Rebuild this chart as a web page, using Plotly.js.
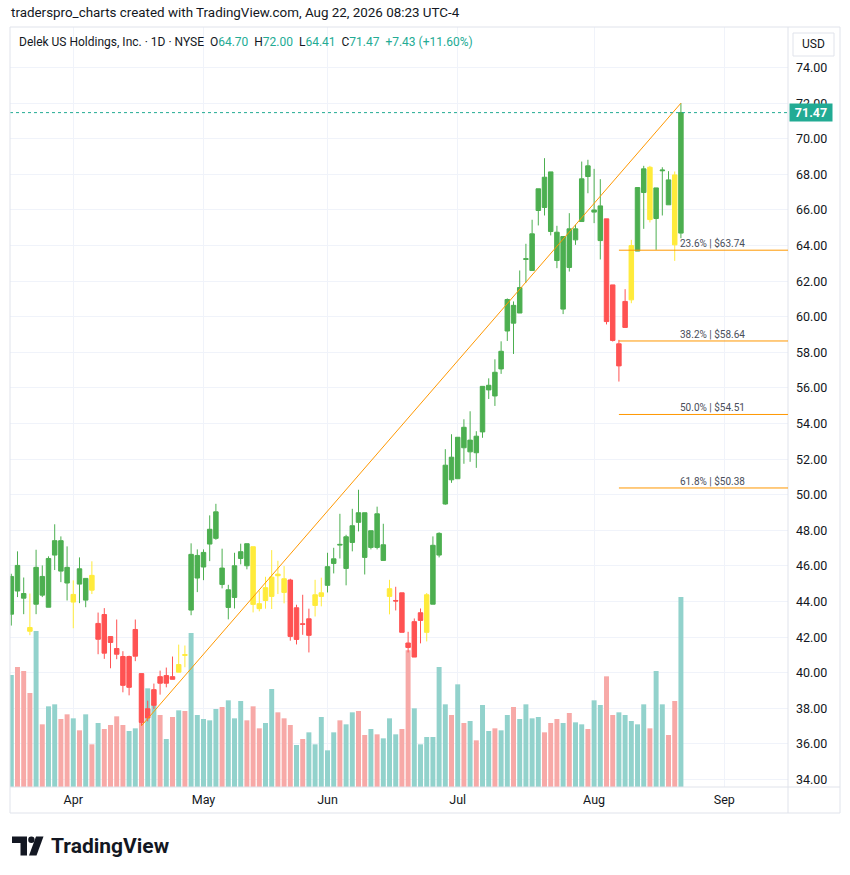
<!DOCTYPE html>
<html>
<head>
<meta charset="utf-8">
<script src="https://cdn.plot.ly/plotly-3.0.1.min.js"></script>
<style>
  html, body { margin: 0; padding: 0; background: #ffffff; }
  #chart { width: 850px; height: 875px; }
</style>
</head>
<body>
<div id="chart"></div>
<script>
// ---------------- DATA ----------------
const dates = [
  '2026-03-18','2026-03-19','2026-03-20','2026-03-23','2026-03-24','2026-03-25','2026-03-26','2026-03-27','2026-03-30','2026-03-31',
  '2026-04-01','2026-04-02','2026-04-06','2026-04-07','2026-04-08','2026-04-09','2026-04-10','2026-04-13','2026-04-14','2026-04-15',
  '2026-04-16','2026-04-17','2026-04-20','2026-04-21','2026-04-22','2026-04-23','2026-04-24','2026-04-27','2026-04-28','2026-04-29',
  '2026-04-30','2026-05-01','2026-05-04','2026-05-05','2026-05-06','2026-05-07','2026-05-08','2026-05-11','2026-05-12','2026-05-13',
  '2026-05-14','2026-05-15','2026-05-18','2026-05-19','2026-05-20','2026-05-21','2026-05-22','2026-05-26','2026-05-27','2026-05-28',
  '2026-05-29','2026-06-01','2026-06-02','2026-06-03','2026-06-04','2026-06-05','2026-06-08','2026-06-09','2026-06-10','2026-06-11',
  '2026-06-12','2026-06-15','2026-06-16','2026-06-17','2026-06-18','2026-06-22','2026-06-23','2026-06-24','2026-06-25','2026-06-26',
  '2026-06-29','2026-06-30','2026-07-01','2026-07-02','2026-07-06','2026-07-07','2026-07-08','2026-07-09','2026-07-10','2026-07-13',
  '2026-07-14','2026-07-15','2026-07-16','2026-07-17','2026-07-20','2026-07-21','2026-07-22','2026-07-23','2026-07-24','2026-07-27',
  '2026-07-28','2026-07-29','2026-07-30','2026-07-31','2026-08-03','2026-08-04','2026-08-05','2026-08-06','2026-08-07','2026-08-10',
  '2026-08-11','2026-08-12','2026-08-13','2026-08-14','2026-08-17','2026-08-18','2026-08-19','2026-08-20','2026-08-21'
];
const open = [
  43.29,44.59,44.19,42.54,43.85,44.36,43.68,46.61,45.71,45.04,
  44.40,44.98,44.08,44.64,42.77,43.27,42.03,41.36,40.91,40.91,
  42.43,39.95,37.98,39.05,39.78,39.84,39.78,40.03,41.02,43.52,
  45.32,45.94,47.23,47.55,44.96,43.67,44.23,46.42,46.01,47.08,
  43.88,44.06,44.29,45.45,45.28,45.21,43.65,42.75,43.03,43.78,
  44.29,44.91,46.14,47.17,45.86,47.32,48.45,46.48,47.04,47.04,
  46.31,44.72,44.06,44.49,41.67,42.87,43.37,42.27,43.85,46.61,
  49.48,50.84,50.90,52.64,52.41,52.36,53.53,55.89,55.55,57.07,
  59.20,59.64,60.21,63.22,62.60,65.97,66.14,64.79,63.16,60.43,
  62.77,64.32,65.35,67.88,65.88,64.28,65.50,61.79,58.48,60.86,
  60.95,63.69,66.98,68.40,65.52,68.20,66.29,67.97,64.70
];
const high = [
  45.56,46.82,45.35,44.45,46.91,46.03,46.54,48.34,47.66,47.10,
  45.19,46.48,45.30,46.26,43.38,43.63,42.03,42.99,41.21,40.96,
  42.99,39.95,38.43,39.39,40.12,40.29,40.91,41.58,41.53,47.27,
  46.93,46.93,48.84,49.49,46.97,44.94,46.74,47.25,47.25,47.08,
  44.61,45.39,46.89,46.29,45.99,45.28,43.82,44.38,43.60,45.22,
  45.34,46.74,47.02,48.93,47.75,49.21,50.28,48.99,47.98,49.33,
  48.37,45.22,44.83,44.49,42.30,43.05,43.61,44.48,47.66,47.89,
  52.56,53.40,53.23,54.24,54.69,53.57,56.09,56.54,57.61,58.62,
  61.03,60.86,62.60,64.10,65.45,67.19,68.91,68.14,65.11,64.51,
  65.82,65.17,68.72,68.82,68.31,67.73,65.50,61.79,58.70,61.55,
  64.32,67.26,68.48,68.48,67.24,68.40,68.18,68.16,72.00
];
const low = [
  42.65,44.25,43.29,42.11,43.29,44.25,43.68,45.77,45.09,44.06,
  42.50,43.91,43.68,44.42,41.04,40.78,40.25,40.76,38.90,38.73,
  40.65,37.02,37.27,37.96,38.77,39.18,39.63,40.03,40.31,43.23,
  44.53,45.20,46.27,47.47,44.74,43.00,43.61,46.09,45.81,43.39,
  43.45,43.60,43.58,44.42,43.90,41.80,41.59,42.13,41.14,43.16,
  43.73,44.51,45.58,46.42,44.91,46.82,47.94,45.52,46.93,46.93,
  46.31,43.28,43.50,42.27,41.14,40.88,41.65,41.76,43.85,46.48,
  49.44,50.67,50.90,51.74,51.85,51.51,53.20,55.38,54.99,56.79,
  58.64,57.91,60.21,61.91,62.60,65.13,65.69,64.57,62.73,60.15,
  62.54,64.04,65.35,66.94,65.26,63.22,59.57,58.61,56.36,59.40,
  60.76,63.69,64.94,65.30,63.76,65.69,66.29,63.14,64.41
];
const close = [
  45.41,46.03,44.45,42.33,45.92,45.41,46.42,47.42,47.42,45.92,
  43.97,45.84,45.30,45.47,41.88,41.10,41.70,41.04,39.29,39.18,
  40.93,37.21,37.46,38.17,39.41,39.41,39.63,40.46,40.98,46.65,
  46.59,46.76,48.06,49.04,45.88,44.66,46.01,46.80,47.25,43.84,
  43.60,44.78,45.37,45.54,44.51,42.04,41.87,42.72,42.10,44.38,
  44.49,45.96,46.40,47.21,47.64,48.26,48.99,48.99,47.98,48.93,
  47.19,44.29,44.03,42.27,41.42,40.88,42.94,44.38,47.16,47.83,
  51.66,52.11,53.23,53.79,53.07,53.29,56.09,56.15,56.88,58.06,
  60.97,60.64,61.64,63.26,64.66,67.19,67.84,68.14,64.75,64.51,
  64.94,64.94,67.75,68.48,66.00,66.23,59.73,58.67,57.24,59.40,
  64.00,67.26,68.31,65.46,67.24,68.24,67.69,64.04,71.47
];
// bar colouring used on the chart: g = green, r = red, y = yellow
const candleColor = [
  'g','g','g','y','g','g','g','g','g','g',
  'y','g','g','y','r','r','r','r','r','r',
  'r','r','r','r','r','r','r','y','y','g',
  'g','g','g','g','g','g','g','g','g','y',
  'y','y','y','y','y','r','r','r','r','y',
  'y','g','g','g','g','g','g','g','g','g',
  'g','y','r','r','r','r','r','y','g','g',
  'g','g','g','g','g','g','g','g','g','g',
  'g','g','g','g','g','g','g','g','g','g',
  'g','g','g','g','g','g','r','r','r','r',
  'y','g','g','y','g','g','g','y','g'
];
// volume in millions of shares
const volume = [
  1.68,1.80,1.74,1.41,2.34,0.94,1.21,1.24,1.02,1.09,
  1.03,0.85,1.09,0.64,0.96,0.87,0.93,1.06,0.93,0.84,
  0.88,1.45,1.48,1.23,1.08,0.72,1.05,1.15,1.14,2.31,
  1.08,1.02,1.00,1.17,1.20,1.30,1.03,1.29,1.00,1.21,
  0.88,0.96,1.47,1.12,1.03,0.93,0.63,0.72,0.82,0.64,
  1.05,0.55,0.82,1.00,0.94,1.12,1.14,0.78,0.87,0.79,
  0.73,1.03,0.79,0.87,2.05,1.18,0.64,0.75,0.75,1.80,
  1.24,1.08,1.54,0.96,0.99,0.70,1.23,0.84,0.88,0.85,
  1.08,1.20,1.02,1.24,1.03,1.05,0.82,0.96,1.02,0.96,
  1.11,0.97,0.94,0.87,1.30,1.23,1.66,1.08,1.12,1.08,
  0.99,0.94,1.24,0.88,1.74,1.24,0.78,1.29,2.85
];
// u = up volume (teal), d = down volume (red)
const volumeDir = [
  'u','d','d','d','u','d','u','u','d','d',
  'u','d','u','d','u','d','d','d','d','u',
  'u','d','u','u','d','u','d','u','d','u',
  'u','u','u','u','d','u','u','u','d','d',
  'd','u','u','d','d','d','u','d','u','u',
  'u','u','u','d','u','u','d','d','u','d',
  'u','u','u','d','d','u','u','u','u','u',
  'u','d','u','d','u','d','u','u','d','u',
  'u','d','u','u','u','u','d','d','d','u',
  'd','u','u','d','u','u','d','d','u','u',
  'u','u','u','d','u','u','d','d','u'
];
const holidays = ['2026-04-03','2026-05-25','2026-06-19','2026-07-03'];
const monthTickDates = ['2026-04-01','2026-05-01','2026-06-01','2026-07-01','2026-08-03','2026-09-01'];
const monthLabels = ['Apr','May','Jun','Jul','Aug','Sep'];
const priceTicks = [34,36,38,40,42,44,46,48,50,52,54,56,58,60,62,64,66,68,70,72,74];
const viewRange = ['2026-03-18 07:00','2026-09-15 18:30'];
const priceRange = [33.58, 76.28];

// drawings
const trendDates = ['2026-04-17','2026-08-21'];
const trendPrices = [37.02, 72.00];
const fibLabels = ['23.6%','38.2%','50.0%','61.8%'];
const fibPrices = [63.74, 58.64, 54.51, 50.38];
const fibStartDate = '2026-08-07';

const headerText = 'traderspro_charts created with TradingView.com, Aug 22, 2026 08:23 UTC-4';
const symbolText = 'Delek US Holdings, Inc. · 1D · NYSE';
const currencyText = 'USD';

// ---------------- BUILD ----------------
const GREEN = '#4caf50', RED = '#ff5252', YELLOW = '#ffeb3b';
const VOL_UP = '#92d2cc', VOL_DN = '#f7a9a7';
const TEAL = '#22ab94', TXT = '#131722', GRID = '#f0f3fa', FRAME = '#e0e3eb';
const FIB = '#ff9800';

const atNoon = d => d + ' 12:00';
const xs = dates.map(atNoon);

function candleTrace(code, color) {
  const ii = candleColor.map((k, i) => k === code ? i : -1).filter(i => i >= 0);
  return {
    type: 'candlestick', xaxis: 'x', yaxis: 'y2',
    x: ii.map(i => xs[i]),
    open: ii.map(i => open[i]), high: ii.map(i => high[i]),
    low: ii.map(i => low[i]), close: ii.map(i => close[i]),
    increasing: { line: { color: color, width: 1 }, fillcolor: color },
    decreasing: { line: { color: color, width: 1 }, fillcolor: color },
    whiskerwidth: 0, hoverinfo: 'skip', showlegend: false
  };
}

const volTrace = {
  type: 'bar', xaxis: 'x', yaxis: 'y',
  x: xs, y: volume,
  marker: { color: volumeDir.map(d => d === 'u' ? VOL_UP : VOL_DN), line: { width: 0 } },
  hoverinfo: 'skip', showlegend: false
};

const data = [volTrace, candleTrace('g', GREEN), candleTrace('r', RED), candleTrace('y', YELLOW)];

// pixel helpers for decorations (plot area: x 10..788, y 27..787)
const PL = 10, PR = 788, PT = 27, PB = 787;
const px = x => (x - PL) / (PR - PL);
const py = y => (PB - y) / (PB - PT);
const P = (x, y) => px(x) + ',' + py(y);

const n = close.length;
const lastClose = close[n - 1];
const chg = lastClose - close[n - 2];
const chgPct = chg / close[n - 2] * 100;
const sp = v => '<span style="color:' + TEAL + '">' + v + '</span>';
const legendText = symbolText + '&nbsp;&nbsp;O' + sp(open[n-1].toFixed(2)) +
  '&nbsp;&nbsp;H' + sp(high[n-1].toFixed(2)) +
  '&nbsp;&nbsp;L' + sp(low[n-1].toFixed(2)) +
  '&nbsp;&nbsp;C' + sp(lastClose.toFixed(2)) +
  '&nbsp;&nbsp;' + sp((chg >= 0 ? '+' : '') + chg.toFixed(2) + ' (' + (chg >= 0 ? '+' : '') + chgPct.toFixed(2) + '%)');

const frameLine = (x0, y0, x1, y1) => ({
  type: 'line', xref: 'paper', yref: 'paper', layer: 'above',
  x0: px(x0), y0: py(y0), x1: px(x1), y1: py(y1),
  line: { color: FRAME, width: 1 }
});

const shapes = [
  // trend line
  { type: 'line', xref: 'x', yref: 'y2', layer: 'above',
    x0: atNoon(trendDates[0]), y0: trendPrices[0], x1: atNoon(trendDates[1]), y1: trendPrices[1],
    line: { color: FIB, width: 1 } },
  // last price dotted line
  { type: 'line', xref: 'paper', yref: 'y2', layer: 'above',
    x0: 0, x1: 1, y0: lastClose, y1: lastClose,
    line: { color: TEAL, width: 1, dash: 'dot' } },
  // frame
  frameLine(10, 27, 840, 27),
  frameLine(10, 787, 840, 787),
  frameLine(10, 813, 840, 813),
  frameLine(10, 27, 10, 813),
  frameLine(788, 27, 788, 813),
  frameLine(840, 27, 840, 813),
  // currency button
  { type: 'rect', xref: 'paper', yref: 'paper', layer: 'above',
    x0: px(793), x1: px(834), y0: py(56), y1: py(33),
    line: { color: FRAME, width: 1 }, fillcolor: '#ffffff' },
  // TradingView logo mark
  { type: 'path', xref: 'paper', yref: 'paper', layer: 'above',
    path: 'M ' + P(12, 836.5) + ' L ' + P(27, 836.5) + ' L ' + P(27, 855.5) + ' L ' + P(20.5, 855.5) +
          ' L ' + P(20.5, 843) + ' L ' + P(12, 843) + ' Z',
    fillcolor: TXT, line: { width: 0 } },
  { type: 'circle', xref: 'paper', yref: 'paper', layer: 'above',
    x0: px(28.2), x1: px(34.6), y0: py(843), y1: py(836.6),
    fillcolor: TXT, line: { width: 0 } },
  { type: 'path', xref: 'paper', yref: 'paper', layer: 'above',
    path: 'M ' + P(36, 836.5) + ' L ' + P(43.5, 836.5) + ' L ' + P(36.5, 855.5) + ' L ' + P(29, 855.5) + ' Z',
    fillcolor: TXT, line: { width: 0 } }
];
fibPrices.forEach(p => shapes.push({
  type: 'line', xref: 'x', yref: 'y2', layer: 'above',
  x0: atNoon(fibStartDate), x1: viewRange[1], y0: p, y1: p,
  line: { color: FIB, width: 1 }
}));

const annotations = [
  { xref: 'paper', yref: 'paper', x: px(9), y: py(12), xanchor: 'left', yanchor: 'middle',
    text: headerText, showarrow: false, font: { size: 13.4, color: TXT } },
  { xref: 'paper', yref: 'paper', x: px(17), y: py(42), xanchor: 'left', yanchor: 'middle',
    text: legendText, showarrow: false, font: { size: 12, color: TXT } },
  { xref: 'paper', yref: 'paper', x: px(813.5), y: py(44.5), xanchor: 'center', yanchor: 'middle',
    text: currencyText, showarrow: false, font: { size: 12, color: TXT } },
  { xref: 'paper', yref: 'y2', x: 1, y: lastClose, xanchor: 'left', yanchor: 'middle', xshift: 1,
    text: '<b>' + lastClose.toFixed(2) + '</b>', showarrow: false,
    bgcolor: TEAL, borderpad: 2, width: 38, height: 13,
    font: { size: 12.5, color: '#ffffff' } },
  { xref: 'paper', yref: 'paper', x: px(49), y: py(846), xanchor: 'left', yanchor: 'middle',
    text: '<b>TradingView</b>', showarrow: false, font: { size: 21, color: TXT } }
];
fibPrices.forEach((p, i) => annotations.push({
  xref: 'paper', yref: 'y2', x: px(678), y: p, xanchor: 'left', yanchor: 'bottom', yshift: -1,
  text: fibLabels[i] + ' | $' + p.toFixed(2), showarrow: false,
  font: { size: 10, color: '#4a4e5a' }
}));

const layout = {
  width: 850, height: 875,
  margin: { l: PL, r: 850 - PR, t: PT, b: 875 - PB, pad: 0 },
  paper_bgcolor: '#ffffff', plot_bgcolor: '#ffffff',
  showlegend: false,
  font: { family: 'Roboto, "Open Sans", sans-serif', color: TXT, size: 12 },
  bargap: 0.2,
  boxgap: 0.15, boxgroupgap: 0.15,
  xaxis: {
    type: 'date', range: viewRange,
    rangebreaks: [{ bounds: ['sat', 'mon'] }, { values: holidays }],
    rangeslider: { visible: false },
    tickmode: 'array', tickvals: monthTickDates.map(atNoon), ticktext: monthLabels,
    showgrid: true, gridcolor: GRID, gridwidth: 1,
    zeroline: false, showline: false, ticks: '',
    ticklabelstandoff: 3,
    tickfont: { size: 12.5, color: TXT }, fixedrange: true
  },
  yaxis: {
    range: [0, Math.max(...volume) * 4.0],
    visible: false, showgrid: false, zeroline: false, fixedrange: true
  },
  yaxis2: {
    overlaying: 'y', side: 'right', range: priceRange,
    tickmode: 'array', tickvals: priceTicks, ticktext: priceTicks.map(v => v.toFixed(2)),
    showgrid: true, gridcolor: GRID, gridwidth: 1,
    zeroline: false, showline: false, ticks: '',
    ticklabelstandoff: 7,
    tickfont: { size: 12.5, color: TXT }, fixedrange: true
  },
  shapes: shapes,
  annotations: annotations
};

Plotly.newPlot('chart', data, layout, { displayModeBar: false, staticPlot: true });
</script>
</body>
</html>
